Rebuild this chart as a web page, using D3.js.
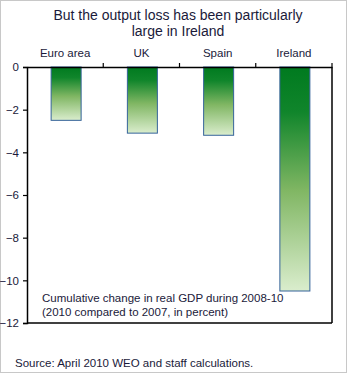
<!DOCTYPE html>
<html>
<head>
<meta charset="utf-8">
<script src="https://cdn.jsdelivr.net/npm/d3@7"></script>
<style>
  body { margin: 0; background: #fff; }
  svg { display: block; font-family: "Liberation Sans", Arial, sans-serif; }
</style>
</head>
<body>
<div id="chart"></div>
<script>
// data
var categories = ['Euro area', 'UK', 'Spain', 'Ireland'];
var values = [-2.5, -3.1, -3.2, -10.5];
var yTicks = [0, -2, -4, -6, -8, -10, -12];

var width = 350, height = 375;
var margin = {left: 27, right: 18, top: 67, bottom: 52};

var svg = d3.select('#chart')
    .append('svg')
    .attr('width', width)
    .attr('height', height);

// outer gray frame
svg.append('rect')
    .attr('x', 0.5).attr('y', 0.5)
    .attr('width', width - 4).attr('height', height - 3)
    .attr('fill', 'none')
    .attr('stroke', '#c8c8c8');

var grad = svg.append('defs').append('linearGradient')
    .attr('id', 'barGrad')
    .attr('x1', 0).attr('y1', 0).attr('x2', 0).attr('y2', 1);
grad.append('stop').attr('offset', '0%').attr('stop-color', '#007a1f');
grad.append('stop').attr('offset', '20%').attr('stop-color', '#10852b');
grad.append('stop').attr('offset', '55%').attr('stop-color', '#80b663');
grad.append('stop').attr('offset', '100%').attr('stop-color', '#daedcd');

var x = d3.scaleBand()
    .domain(categories)
    .range([margin.left, width - margin.right])
    .paddingInner(0)
    .paddingOuter(0);

var y = d3.scaleLinear()
    .domain([0, -12])
    .range([margin.top, height - margin.bottom]);

// title
svg.append('text')
    .attr('x', 178).attr('y', 20)
    .attr('text-anchor', 'middle')
    .style('font-size', '14px')
    .attr('fill', '#1a1a3a')
    .text('But the output loss has been particularly');
svg.append('text')
    .attr('x', 178).attr('y', 36)
    .attr('text-anchor', 'middle')
    .style('font-size', '14px')
    .attr('fill', '#1a1a3a')
    .text('large in Ireland');

var barW = 30;

// bars
svg.selectAll('.bar')
    .data(values)
    .enter()
    .append('rect')
    .attr('class', 'bar')
    .attr('x', function(d, i) { return x(categories[i]) + x.bandwidth() / 2 - barW / 2 + 1; })
    .attr('y', y(0))
    .attr('width', barW)
    .attr('height', function(d) { return y(d) - y(0); })
    .attr('fill', 'url(#barGrad)')
    .attr('stroke', '#35639a')
    .attr('stroke-width', 1);

// top axis (zero line) with category labels
var xaxis = d3.axisTop(x).tickSize(0).tickPadding(10);
var gx = svg.append('g')
    .attr('transform', 'translate(0,' + y(0) + ')')
    .call(xaxis);
gx.select('.domain').attr('stroke', '#000').attr('stroke-width', 1.5);
gx.selectAll('text')
    .style('font-size', '11.5px')
    .style('font-family', '"Liberation Sans", Arial, sans-serif')
    .attr('fill', '#1a1a3a');

// dividers between categories on the zero line
svg.selectAll('.divtick')
    .data(categories.slice(1).concat(['end']))
    .enter()
    .append('line')
    .attr('x1', function(d, i) { return x.range()[0] + x.bandwidth() * (i + 1); })
    .attr('x2', function(d, i) { return x.range()[0] + x.bandwidth() * (i + 1); })
    .attr('y1', y(0))
    .attr('y2', y(0) - 4)
    .attr('stroke', '#000')
    .attr('stroke-width', 1.2);

// left axis
var yaxis = d3.axisLeft(y)
    .tickValues(yTicks)
    .tickSize(4)
    .tickPadding(4)
    .tickFormat(d3.format('d'));
var gy = svg.append('g')
    .attr('transform', 'translate(' + margin.left + ',0)')
    .call(yaxis);
gy.select('.domain').attr('stroke', '#000').attr('stroke-width', 1.5);
gy.selectAll('line').attr('stroke', '#000').attr('stroke-width', 1.2);
gy.selectAll('text')
    .style('font-size', '11.5px')
    .style('font-family', '"Liberation Sans", Arial, sans-serif')
    .attr('fill', '#1a1a3a');

// right and bottom frame
svg.append('line')
    .attr('x1', x.range()[1]).attr('x2', x.range()[1])
    .attr('y1', y(0)).attr('y2', y(-12))
    .attr('stroke', '#000').attr('stroke-width', 1.5);
svg.append('line')
    .attr('x1', margin.left).attr('x2', x.range()[1])
    .attr('y1', y(-12)).attr('y2', y(-12))
    .attr('stroke', '#000').attr('stroke-width', 1.5);

// note inside plot
svg.append('text')
    .attr('x', 42).attr('y', 302)
    .style('font-size', '11.5px')
    .attr('fill', '#1a1a3a')
    .text('Cumulative change in real GDP  during 2008-10');
svg.append('text')
    .attr('x', 42).attr('y', 316)
    .style('font-size', '11.5px')
    .attr('fill', '#1a1a3a')
    .text('(2010 compared to 2007, in percent)');

// source
svg.append('text')
    .attr('x', 15).attr('y', 367)
    .style('font-size', '11.5px')
    .attr('fill', '#1a1a3a')
    .text('Source: April 2010 WEO and  staff calculations.');
</script>
</body>
</html>
